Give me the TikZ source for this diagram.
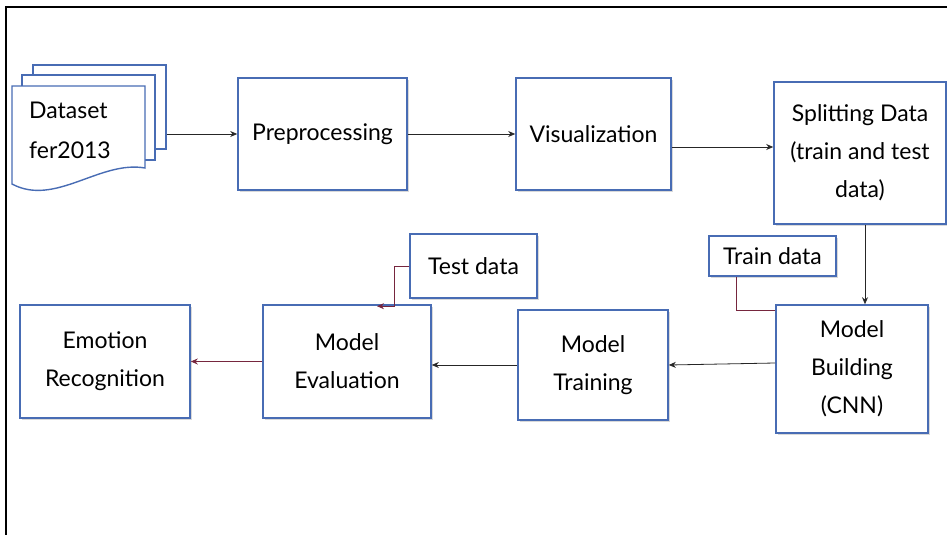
\documentclass[tikz,border=0pt]{standalone}
\usepackage{fontspec}
\setmainfont{Lato}
\usetikzlibrary{positioning,arrows.meta,shadows}
\definecolor{boxblue}{RGB}{72,108,180}
\definecolor{linkred}{RGB}{118,38,62}

\begin{document}
\begin{tikzpicture}[x=1pt,y=-1pt,
      >={Stealth[length=7pt,width=6pt]},
      res/.style={draw=boxblue,line width=1.6pt,fill=white,align=center,
        inner sep=2pt,font=\fontsize{23}{38}\selectfont,
        drop shadow={opacity=0.3,shadow xshift=1.5pt,shadow yshift=-2pt}},
      sheet/.style={draw=boxblue,line width=1.4pt,fill=white},
      flow/.style={draw=black!85,line width=0.8pt,->},
      link/.style={draw=linkred,line width=0.8pt}
    ]
    \useasboundingbox (0,0) rectangle (947,535);
    \draw[line width=1.8pt] (947,7) -- (6,7) -- (6,535);
    % stacked pages of the data set
    \node[sheet,minimum width=133pt,minimum height=84pt] (D3) at (99.5,107) {};
    \node[sheet,minimum width=133pt,minimum height=85pt] (D2) at (88.5,117.5) {};
    \draw[sheet] (12,86) -- (145,86) -- (145,168)
      .. controls (100,160) and (55,207) .. (12,184) -- cycle;
    \node[align=left,font=\fontsize{23}{40}\selectfont] (D) at (70,130)
      {Dataset\\fer2013};
    \node[res,minimum width=169pt,minimum height=112pt] (P) at (322.5,134)
      {Preprocessing};
    \node[res,minimum width=155pt,minimum height=112pt] (V) at (593.5,134)
      {Visualization};
    \node[res,minimum width=172pt,minimum height=142pt] (S) at (860,153)
      {Splitting Data\\(train and test\\data)};
    \node[res,minimum width=152pt,minimum height=128pt] (B) at (852,369)
      {Model\\Building\\(CNN)};
    \node[res,minimum width=150pt,minimum height=110pt] (T) at (593,365)
      {Model\\Training};
    \node[res,minimum width=168pt,minimum height=113pt] (E) at (347,361.5)
      {Model\\Evaluation};
    \node[res,minimum width=170pt,minimum height=113pt] (R) at (105,361.5)
      {Emotion\\Recognition};
    \node[res,minimum width=127pt,minimum height=40pt] (Dtr) at (772.5,256)
      {Train data};
    \node[res,minimum width=127pt,minimum height=64pt] (Dte) at (473.5,266)
      {Test data};
    \draw[flow] (D3.east |- P.west) -- (P.west);
    \draw[flow] (P.east) -- (V.west);
    \draw[flow] ([yshift=-13pt]V.east) -- ([yshift=-13pt]V.east -| S.west);
    \draw[flow] ([xshift=5pt]S.south) -- ([xshift=5pt]S.south |- B.north);
    \draw[flow] ([yshift=6pt]B.west) -- (T.east);
    \draw[flow] (T.west) -- (T.west -| E.east);
    \draw[link,->] (E.west) -- (R.east);
    \draw[link,->] (Dte.west) -| ([xshift=47pt,yshift=-2pt]E.north)
      -- ([xshift=30pt,yshift=-2pt]E.north);
    \draw[link] ([xshift=-36pt]Dtr.south) |- ([yshift=-6pt]B.north west);
  \end{tikzpicture}
\end{document}
